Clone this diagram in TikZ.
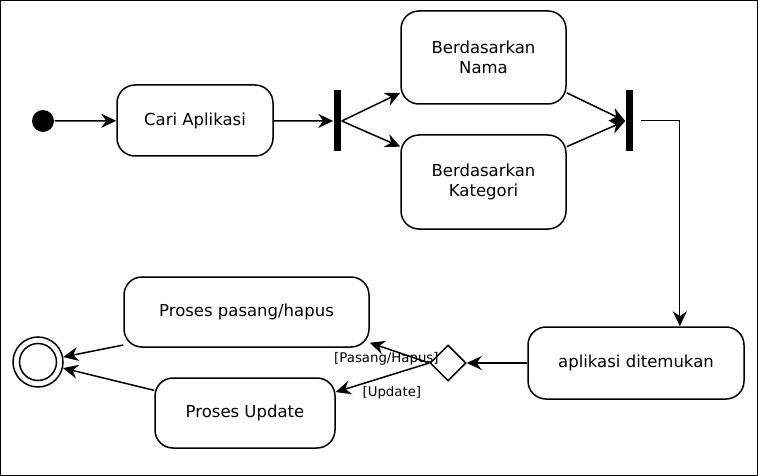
\documentclass[tikz,border=0pt]{standalone}
\usepackage{fontspec}
\setmainfont{DejaVu Sans}
\usetikzlibrary{arrows.meta, shapes.geometric}

\begin{document}
\begin{tikzpicture}[x=1pt,y=-1pt,>={Stealth[length=15pt,width=14pt,inset=5pt]},line width=1.5pt,auto]
\tikzset{activity/.style = {shape=rectangle, draw, rounded corners=18pt, line width=1.5pt, font=\fontsize{16.5}{20}\selectfont, align=center, inner sep=0pt}}
\tikzset{bar/.style = {shape=rectangle, fill=black, minimum width=7pt, minimum height=61pt, inner sep=0pt}}
\tikzset{guard/.style = {font=\fontsize{13.3}{15}\selectfont, inner sep=1pt}}

\useasboundingbox (0,0) rectangle (758,476);
\draw[line width=1pt] (0.5,0.5) rectangle (757.5,475.5);

%states
\node[circle, fill=black, minimum size=22pt, inner sep=0pt] (init) at (43,121) {};
\node[activity, minimum width=156pt, minimum height=71pt] (cari) at (195,120.5) {Cari Aplikasi};
\node[bar] (fork) at (337.5,121) {};
\node[activity, minimum width=165pt, minimum height=93pt] (nama) at (483.5,57.5) {Berdasarkan\\Nama};
\node[activity, minimum width=165pt, minimum height=94pt] (kategori) at (483.5,182) {Berdasarkan\\Kategori};
\node[bar] (join) at (629.5,121) {};
\node[activity, minimum width=216pt, minimum height=72pt] (ditemukan) at (636,363) {aplikasi ditemukan};
\node[diamond, draw, minimum size=36pt, inner sep=0pt] (dec) at (448,363) {};
\node[activity, minimum width=245pt, minimum height=70pt] (pasang) at (246.5,312) {Proses pasang/hapus};
\node[activity, minimum width=180pt, minimum height=70pt] (update) at (245,413) {Proses Update};
\node[circle, draw, minimum size=50pt, inner sep=0pt] (final) at (38,362) {};
\node[circle, draw, minimum size=37pt, inner sep=0pt] (finalin) at (final) {};

%transitions
\path[->] (init) edge (cari);
\path[->] (cari) edge (fork);
\path[->] (fork.east) edge (nama.203);
\path[->] (fork.east) edge (kategori.157);
\path[->] (nama.337) edge (join.west);
\path[->] (kategori.23) edge (join.west);
\draw[->, line width=1pt, shorten <=7pt] (join.east) -| (ditemukan.40);
\path[->] (ditemukan) edge (dec);
\path[->] (dec.west) edge node[guard, pos=0.72, below=2pt] {[Pasang/Hapus]} (pasang.-14);
\path[->] (dec.west) edge node[guard, pos=0.4, below=10pt] {[Update]} (update.13);
\path[->] (pasang.195) edge (final);
\path[->] (update.166) edge (final);

\end{tikzpicture}
\end{document}
